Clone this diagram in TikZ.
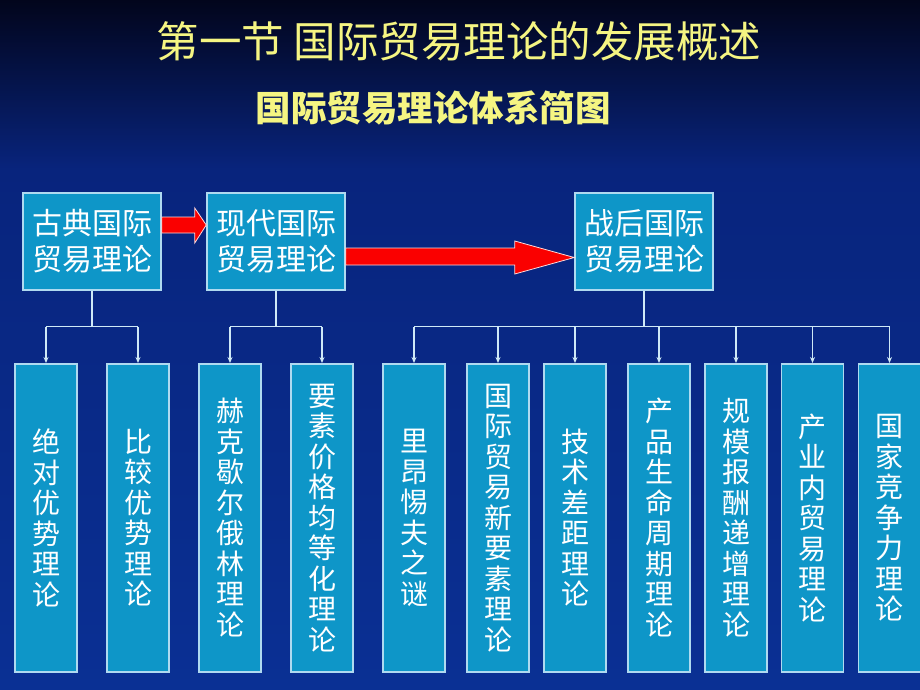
\documentclass[tikz,border=0pt]{standalone}
\usepackage{fontspec}
\setmainfont{Noto Sans CJK SC}
\usetikzlibrary{calc,arrows.meta}
\definecolor{boxfill}{RGB}{14,150,200}
\definecolor{boxline}{RGB}{175,218,240}
\definecolor{bgtop}{RGB}{2,5,28}
\definecolor{bgmid}{RGB}{8,36,125}
\definecolor{bgbot}{RGB}{10,48,148}
\definecolor{ttl}{RGB}{245,245,130}
\definecolor{arrred}{RGB}{250,0,0}
\begin{document}
\begin{tikzpicture}[x=1pt,y=-1pt,
  topbox/.style={draw=boxline,line width=1.5pt,fill=boxfill,minimum width=138pt,minimum height=97pt,inner sep=0pt,align=center,text=white,font=\fontsize{30}{36}\selectfont},
  colbox/.style={draw=boxline,line width=1.5pt,fill=boxfill,minimum width=62pt,minimum height=308pt,inner sep=0pt,align=center,text=white,font=\fontsize{28}{30.5}\selectfont,anchor=north},
  conn/.style={draw=boxline!60!white,line width=1.3pt},
  connarr/.style={conn,-{Stealth[length=6pt,width=5pt]}},
  bigarrow/.style={fill=arrred,draw=white!85!red,line width=0.8pt,line join=miter}
]
\useasboundingbox (0,0) rectangle (920,690);
\shade[top color=bgtop,bottom color=bgmid] (0,0) rectangle (920,170);
\shade[top color=bgmid,bottom color=bgbot] (0,170) rectangle (920,690);

% titles
\node[font=\fontsize{42.5}{42.5}\selectfont,text=ttl] (title) at (459,41) {第一节 国际贸易理论的发展概述};
\node[font=\fontsize{35.5}{35.5}\selectfont\bfseries,text=ttl] (sub) at (433,108) {国际贸易理论体系简图};

% top boxes
\node[topbox] (t1) at (92,241.5) {古典国际\\贸易理论};
\node[topbox] (t2) at (276,241.5) {现代国际\\贸易理论};
\node[topbox] (t3) at (644,241.5) {战后国际\\贸易理论};

% big arrows
\draw[bigarrow] ($(t1.east)+(0,-24.5)$) -- ++(33,0) -- ++(0,-9) -- ($(t2.west)+(0,-16.5)$)
  -- ($(t1.east)+(33,1.5)$) -- ++(0,-10) -- ($(t1.east)+(0,-8.5)$) -- cycle;
\draw[bigarrow] ($(t2.east)+(0,6.5)$) -- ++(169,0) -- ++(0,-7) -- ($(t3.west)+(0,16)$)
  -- ($(t2.east)+(169,32.5)$) -- ++(0,-9) -- ($(t2.east)+(0,23.5)$) -- cycle;

% bottom boxes
\node[colbox] (b1) at (46,363) {绝\\对\\优\\势\\理\\论};
\node[colbox] (b2) at (138,363) {比\\较\\优\\势\\理\\论};
\node[colbox] (b3) at (230,363) {赫\\克\\歇\\尔\\俄\\林\\理\\论};
\node[colbox] (b4) at (322,363) {要\\素\\价\\格\\均\\等\\化\\理\\论};
\node[colbox] (b5) at (414,363) {里\\昂\\惕\\夫\\之\\谜};
\node[colbox] (b6) at (498,363) {国\\际\\贸\\易\\新\\要\\素\\理\\论};
\node[colbox] (b7) at (575,363) {技\\术\\差\\距\\理\\论};
\node[colbox] (b8) at (659,363) {产\\品\\生\\命\\周\\期\\理\\论};
\node[colbox] (b9) at (736,363) {规\\模\\报\\酬\\递\\增\\理\\论};
\node[colbox] (b10) at (812.5,363) {产\\业\\内\\贸\\易\\理\\论};
\node[colbox] (b11) at (889.5,363) {国\\家\\竞\\争\\力\\理\\论};

% connectors
\draw[conn] (t1.south) -- ($(t1.south)+(0,36)$) coordinate (j1);
\draw[conn] (j1 -| b1.north) -- (j1 -| b2.north);
\foreach \b in {b1,b2} \draw[connarr] (j1 -| \b.north) -- (\b.north);

\draw[conn] (t2.south) -- ($(t2.south)+(0,36)$) coordinate (j2);
\draw[conn] (j2 -| b3.north) -- (j2 -| b4.north);
\foreach \b in {b3,b4} \draw[connarr] (j2 -| \b.north) -- (\b.north);

\draw[conn] (t3.south) -- ($(t3.south)+(0,36)$) coordinate (j3);
\draw[conn] (j3 -| b5.north) -- (j3 -| b11.north);
\foreach \b in {b5,b6,b7,b8,b9,b10,b11} \draw[connarr] (j3 -| \b.north) -- (\b.north);
\end{tikzpicture}
\end{document}
